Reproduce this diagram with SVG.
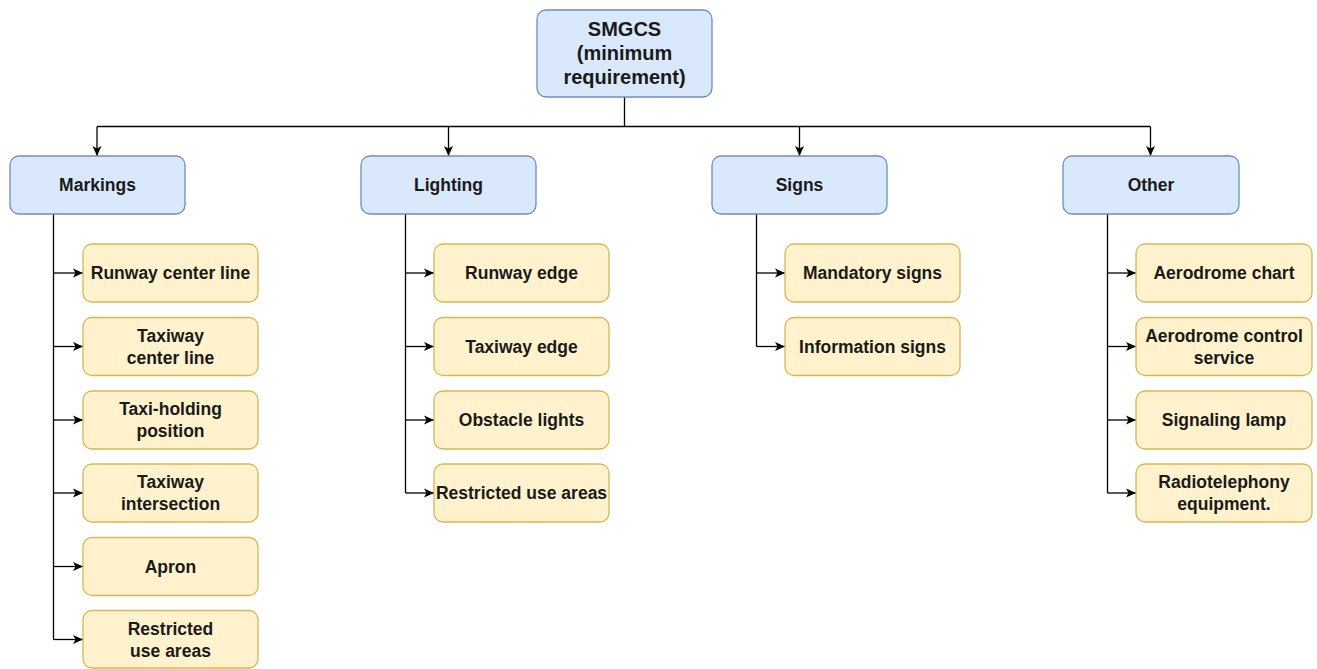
<svg xmlns="http://www.w3.org/2000/svg" width="1317" height="669" viewBox="0 0 1317 669">
<style>
.blue{fill:#dae8fc;stroke:#6c8ebf;stroke-width:1.3}
.yel{fill:#fff2cc;stroke:#d6b656;stroke-width:1.3}
text{font-family:"Liberation Sans",Arial,sans-serif;font-size:17.5px;font-weight:bold;fill:#1a1a1a;text-anchor:middle;dominant-baseline:central}
.big{font-size:20px}
.c{fill:none;stroke:#000;stroke-width:1.3}
</style>
<defs>
<marker id="a" viewBox="0 0 10 10" refX="10" refY="5" markerWidth="10" markerHeight="10" markerUnits="userSpaceOnUse" orient="auto">
<path d="M0,0.5 L10,5 L0,9.5 L2.5,5 Z" fill="#000"/>
</marker>
</defs>
<rect width="1317" height="669" fill="#fff"/>
<g id="connectors">
<path class="c" d="M624.5,97 V126.5 M97,126.5 H1150.5"/>
<path class="c" marker-end="url(#a)" d="M97,126.5 V156"/>
<path class="c" marker-end="url(#a)" d="M448.5,126.5 V156"/>
<path class="c" marker-end="url(#a)" d="M799.5,126.5 V156"/>
<path class="c" marker-end="url(#a)" d="M1150.5,126.5 V156"/>
<path class="c" d="M53.5,214 V639.5"/>
<path class="c" marker-end="url(#a)" d="M53.5,273 H83"/>
<path class="c" marker-end="url(#a)" d="M53.5,346.5 H83"/>
<path class="c" marker-end="url(#a)" d="M53.5,420 H83"/>
<path class="c" marker-end="url(#a)" d="M53.5,493 H83"/>
<path class="c" marker-end="url(#a)" d="M53.5,566.5 H83"/>
<path class="c" marker-end="url(#a)" d="M53.5,639.5 H83"/>
<path class="c" d="M405.5,214 V493"/>
<path class="c" marker-end="url(#a)" d="M405.5,273 H434"/>
<path class="c" marker-end="url(#a)" d="M405.5,346.5 H434"/>
<path class="c" marker-end="url(#a)" d="M405.5,420 H434"/>
<path class="c" marker-end="url(#a)" d="M405.5,493 H434"/>
<path class="c" d="M756.5,214 V346.5"/>
<path class="c" marker-end="url(#a)" d="M756.5,273 H785"/>
<path class="c" marker-end="url(#a)" d="M756.5,346.5 H785"/>
<path class="c" d="M1107.5,214 V493"/>
<path class="c" marker-end="url(#a)" d="M1107.5,273 H1136"/>
<path class="c" marker-end="url(#a)" d="M1107.5,346.5 H1136"/>
<path class="c" marker-end="url(#a)" d="M1107.5,420 H1136"/>
<path class="c" marker-end="url(#a)" d="M1107.5,493 H1136"/>
</g>
<g id="root"><rect class="blue" x="537" y="10" width="175" height="87" rx="9"/><text class="big" x="624.5" y="29">SMGCS</text><text class="big" x="624.5" y="53">(minimum</text><text class="big" x="624.5" y="77">requirement)</text></g>
<g id="markings"><rect class="blue" x="10" y="156" width="175" height="58" rx="9"/><text x="97.5" y="185">Markings</text></g>
<g id="lighting"><rect class="blue" x="361" y="156" width="175" height="58" rx="9"/><text x="448.5" y="185">Lighting</text></g>
<g id="signs"><rect class="blue" x="712" y="156" width="175" height="58" rx="9"/><text x="799.5" y="185">Signs</text></g>
<g id="other"><rect class="blue" x="1063" y="156" width="176" height="58" rx="9"/><text x="1151" y="185">Other</text></g>
<g id="m1"><rect class="yel" x="83" y="244" width="175" height="58" rx="9"/><text x="170.5" y="273">Runway center line</text></g>
<g id="m2"><rect class="yel" x="83" y="317.5" width="175" height="58" rx="9"/><text x="170.5" y="335.5">Taxiway</text><text x="170.5" y="357.5">center line</text></g>
<g id="m3"><rect class="yel" x="83" y="391" width="175" height="58" rx="9"/><text x="170.5" y="409">Taxi-holding</text><text x="170.5" y="431">position</text></g>
<g id="m4"><rect class="yel" x="83" y="464" width="175" height="58" rx="9"/><text x="170.5" y="482">Taxiway</text><text x="170.5" y="504">intersection</text></g>
<g id="m5"><rect class="yel" x="83" y="537.5" width="175" height="58" rx="9"/><text x="170.5" y="566.5">Apron</text></g>
<g id="m6"><rect class="yel" x="83" y="610.5" width="175" height="57.5" rx="9"/><text x="170.5" y="628.5">Restricted</text><text x="170.5" y="650.5">use areas</text></g>
<g id="l1"><rect class="yel" x="434" y="244" width="175" height="58" rx="9"/><text x="521.5" y="273">Runway edge</text></g>
<g id="l2"><rect class="yel" x="434" y="317.5" width="175" height="58" rx="9"/><text x="521.5" y="346.5">Taxiway edge</text></g>
<g id="l3"><rect class="yel" x="434" y="391" width="175" height="58" rx="9"/><text x="521.5" y="420">Obstacle lights</text></g>
<g id="l4"><rect class="yel" x="434" y="464" width="175" height="58" rx="9"/><text x="521.5" y="493">Restricted use areas</text></g>
<g id="s1"><rect class="yel" x="785" y="244" width="175" height="58" rx="9"/><text x="872.5" y="273">Mandatory signs</text></g>
<g id="s2"><rect class="yel" x="785" y="317.5" width="175" height="58" rx="9"/><text x="872.5" y="346.5">Information signs</text></g>
<g id="o1"><rect class="yel" x="1136" y="244" width="176" height="58" rx="9"/><text x="1224" y="273">Aerodrome chart</text></g>
<g id="o2"><rect class="yel" x="1136" y="317.5" width="176" height="58" rx="9"/><text x="1224" y="335.5">Aerodrome control</text><text x="1224" y="357.5">service</text></g>
<g id="o3"><rect class="yel" x="1136" y="391" width="176" height="58" rx="9"/><text x="1224" y="420">Signaling lamp</text></g>
<g id="o4"><rect class="yel" x="1136" y="464" width="176" height="58" rx="9"/><text x="1224" y="482">Radiotelephony</text><text x="1224" y="504">equipment.</text></g>
</svg>
